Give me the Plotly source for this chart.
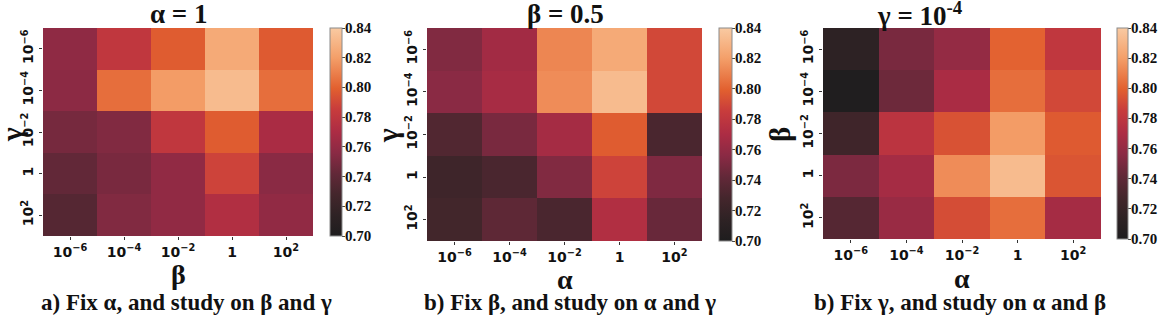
import plotly.graph_objects as go

W, H = 1162, 318

# ---- data ----
tick_labels = ["10<sup>−6</sup>", "10<sup>−4</sup>", "10<sup>−2</sup>", "1", "10<sup>2</sup>"]

# Panel a: alpha = 1, x = beta, y = gamma (rows top->bottom)
vals_a = [
    [0.758, 0.781, 0.798, 0.825, 0.797],
    [0.757, 0.804, 0.819, 0.833, 0.804],
    [0.749, 0.753, 0.781, 0.798, 0.769],
    [0.742, 0.750, 0.759, 0.788, 0.756],
    [0.736, 0.753, 0.759, 0.773, 0.759],
]
# Panel b: beta = 0.5, x = alpha, y = gamma
vals_b = [
    [0.753, 0.766, 0.812, 0.825, 0.790],
    [0.756, 0.768, 0.814, 0.833, 0.790],
    [0.734, 0.750, 0.767, 0.798, 0.731],
    [0.724, 0.731, 0.753, 0.788, 0.752],
    [0.727, 0.740, 0.731, 0.773, 0.744],
]
# Panel c: gamma = 1e-4, x = alpha, y = beta
vals_c = [
    [0.713, 0.750, 0.760, 0.800, 0.781],
    [0.702, 0.746, 0.769, 0.804, 0.790],
    [0.725, 0.778, 0.794, 0.819, 0.797],
    [0.751, 0.767, 0.814, 0.833, 0.795],
    [0.736, 0.762, 0.792, 0.804, 0.767],
]

titles = ["α = 1", "β = 0.5", "γ = 10<sup>-4</sup>"]
xlabels = ["β", "α", "α"]
ylabels = ["γ", "γ", "β"]
captions = ["a) Fix α, and study on β and γ",
            "b) Fix β, and study on α and γ",
            "b) Fix γ, and study on α and β"]

zmin, zmax = 0.70, 0.84
cbar_ticks = [0.70, 0.72, 0.74, 0.76, 0.78, 0.80, 0.82, 0.84]

colorscale = [
    [0.00, "#1e1d1e"],
    [0.10, "#2e2224"],
    [0.20, "#44262c"],
    [0.30, "#622838"],
    [0.40, "#8a2a44"],
    [0.50, "#ac2c44"],
    [0.61, "#c83c3c"],
    [0.71, "#e2602f"],
    [0.86, "#f4a06a"],
    [1.00, "#f9caa2"],
]

# layout geometry in pixels: (heat_x0, heat_x1, heat_y0, heat_y1, cbar_x0, cbar_x1)
geo = [
    (43, 313, 28, 236, 330, 342),
    (427, 702, 28, 241, 719, 732),
    (823, 1101, 28, 239, 1117, 1128),
]
title_x = [178, 565, 920]
xlab_pos = [(178, 274), (565, 279), (962, 278)]
ylab_pos = [(12, 135), (388, 135), (780, 135)]
cap_x = [186, 570, 960]

serif = "Liberation Serif"
sans = "DejaVu Sans"

fig = go.Figure()
annotations = []
layout_axes = {}
for i, (vals, g) in enumerate(zip([vals_a, vals_b, vals_c], geo)):
    hx0, hx1, hy0, hy1, cx0, cx1 = g
    sfx = "" if i == 0 else str(i + 1)
    fig.add_trace(go.Heatmap(
        z=vals, x=list(range(5)), y=list(range(5)),
        zmin=zmin, zmax=zmax, colorscale=colorscale,
        xaxis="x" + sfx, yaxis="y" + sfx, xgap=0, ygap=0,
        colorbar=dict(
            x=cx0 / W, xanchor="left", xref="paper",
            y=1 - hy1 / H, yanchor="bottom", yref="paper",
            len=(hy1 - hy0) / H, lenmode="fraction",
            thickness=cx1 - cx0, thicknessmode="pixels",
            outlinewidth=1, outlinecolor="#8a8a8a",
            tickvals=cbar_ticks, showticklabels=False,
            ticks="outside", ticklen=3, tickwidth=1, tickcolor="#444",
            xpad=0, ypad=0,
        ),
        showscale=True,
    ))
    # colorbar tick labels, placed on the colorbar's value scale
    for t in cbar_ticks:
        frac = (t - zmin) / (zmax - zmin)
        ypx = hy1 - frac * (hy1 - hy0)
        annotations.append(dict(
            text=f"<b>{t:.2f}</b>", x=(cx1 + 2) / W, y=1 - ypx / H,
            xref="paper", yref="paper", showarrow=False,
            font=dict(family=serif, size=15, color="#111"),
            xanchor="left", yanchor="middle", borderpad=0))
    layout_axes["xaxis" + sfx] = dict(
        domain=[hx0 / W, hx1 / W], anchor="y" + sfx,
        tickvals=list(range(5)), ticktext=[f"<b>{t}</b>" for t in tick_labels],
        tickfont=dict(family=sans, size=14, color="#111"),
        ticks="outside", ticklen=3, tickcolor="#333", showgrid=False,
        zeroline=False, showline=False, range=[-0.5, 4.5],
    )
    layout_axes["yaxis" + sfx] = dict(
        domain=[1 - hy1 / H, 1 - hy0 / H], anchor="x" + sfx,
        tickvals=list(range(5)), ticktext=[f"<b>{t}</b>" for t in tick_labels],
        tickfont=dict(family=sans, size=14, color="#111"),
        tickangle=-90, ticks="outside", ticklen=3, tickcolor="#333",
        showgrid=False, zeroline=False, showline=False, range=[4.5, -0.5],
    )
    annotations.append(dict(
        text=f"<b>{titles[i]}</b>", x=title_x[i] / W, y=1 - 14 / H,
        xref="paper", yref="paper", showarrow=False,
        font=dict(family=serif, size=27, color="#111"),
        xanchor="center", yanchor="middle"))
    annotations.append(dict(
        text=f"<b>{xlabels[i]}</b>", x=xlab_pos[i][0] / W, y=1 - xlab_pos[i][1] / H,
        xref="paper", yref="paper", showarrow=False,
        font=dict(family=serif, size=28, color="#111"),
        xanchor="center", yanchor="middle"))
    annotations.append(dict(
        text=f"<b>{ylabels[i]}</b>", x=ylab_pos[i][0] / W, y=1 - ylab_pos[i][1] / H,
        xref="paper", yref="paper", showarrow=False, textangle=-90,
        font=dict(family=serif, size=29, color="#111"),
        xanchor="center", yanchor="middle"))
    annotations.append(dict(
        text=f"<b>{captions[i]}</b>", x=cap_x[i] / W, y=1 - 302 / H,
        xref="paper", yref="paper", showarrow=False,
        font=dict(family=serif, size=23, color="#111"),
        xanchor="center", yanchor="middle"))

fig.update_layout(
    width=W, height=H,
    margin=dict(l=0, r=0, t=0, b=0),
    paper_bgcolor="white", plot_bgcolor="white",
    annotations=annotations,
    **layout_axes,
)

fig.write_html("out.html", config={"displayModeBar": False},
               post_script="document.body.style.margin='0px';")
